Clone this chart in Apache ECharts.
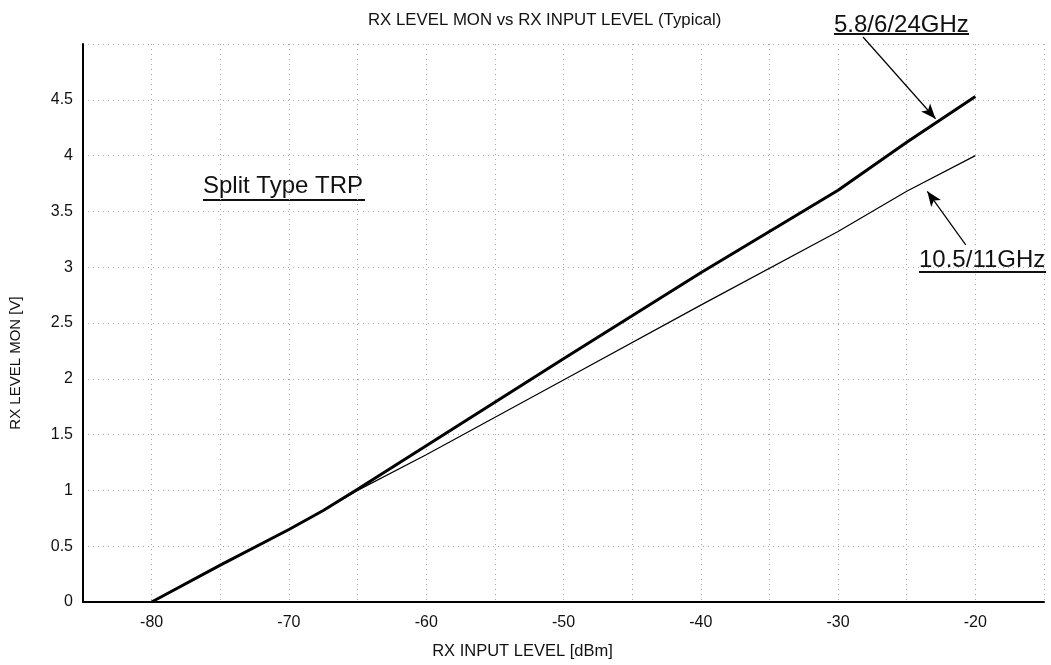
<!DOCTYPE html>
<html>
<head>
<meta charset="utf-8">
<script src="https://cdn.jsdelivr.net/npm/echarts@6/dist/echarts.min.js"></script>
<style>
  html, body { margin: 0; padding: 0; background: #fff; }
  #chart { width: 1051px; height: 665px; }
</style>
</head>
<body>
<div id="chart"></div>
<script>
// RX input level [dBm] at the read-off points
const inputLevel = [-80, -75, -70, -67.5, -65, -60, -50, -40, -30, -25, -20];
// RX LEVEL MON [V] for each band
const mon58_6_24 = [0, 0.33, 0.65, 0.82, 1.01, 1.4, 2.18, 2.95, 3.69, 4.12, 4.53];
const mon105_11 = [0, 0.33, 0.65, 0.82, 1.0, 1.32, 1.99, 2.66, 3.32, 3.68, 4.0];
// annotation arrow tips in data units (tails sit next to the labels)
const arrowTip58 = [-22.9, 4.33];
const arrowTip105 = [-23.5, 3.68];
const arrowTail105 = [-20.7, 3.2];

const FONT = 'Arial, "Liberation Sans", sans-serif';

function pairs(xs, ys) {
  return xs.map((x, i) => [x, ys[i]]);
}

const chart = echarts.init(document.getElementById('chart'));

const gridLine = { show: true, lineStyle: { color: '#a8a8a8', type: [1, 4], width: 1 } };

chart.setOption({
  animation: false,
  backgroundColor: '#fff',
  title: {
    text: 'RX LEVEL MON vs RX INPUT LEVEL (Typical)',
    left: 363,
    top: 7,
    textStyle: { fontFamily: FONT, fontSize: 16.8, fontWeight: 'normal', color: '#111' }
  },
  grid: { left: 83, right: 7, top: 44, bottom: 63 },
  xAxis: {
    type: 'value',
    min: -85,
    max: -15,
    interval: 5,
    name: 'RX INPUT LEVEL [dBm]',
    nameLocation: 'middle',
    nameGap: 41,
    nameTextStyle: { fontFamily: FONT, fontSize: 16.5, color: '#111', padding: [0, 82, 0, 0] },
    axisLine: { onZero: false, lineStyle: { color: '#000', width: 2 } },
    axisTick: { show: false },
    axisLabel: {
      margin: 13,
      fontFamily: FONT, fontSize: 16, color: '#111',
      formatter: v => (v % 10 === 0 ? String(v) : '')
    },
    splitLine: gridLine
  },
  yAxis: {
    type: 'value',
    min: 0,
    max: 5,
    interval: 0.5,
    name: 'RX LEVEL MON [V]',
    nameLocation: 'middle',
    nameGap: 60,
    nameTextStyle: { fontFamily: FONT, fontSize: 15, color: '#111', padding: [0, 0, 0, -80] },
    axisLine: { show: true, onZero: false, lineStyle: { color: '#000', width: 2 } },
    axisTick: { show: false },
    axisLabel: {
      margin: 10,
      fontFamily: FONT, fontSize: 16, color: '#111',
      formatter: v => (v >= 5 ? '' : String(v))
    },
    splitLine: gridLine
  },
  series: [
    {
      name: '5.8/6/24GHz',
      type: 'line',
      data: pairs(inputLevel, mon58_6_24),
      showSymbol: false,
      lineStyle: { color: '#000', width: 3 },
      z: 3
    },
    {
      name: '10.5/11GHz',
      type: 'line',
      data: pairs(inputLevel, mon105_11),
      showSymbol: false,
      lineStyle: { color: '#000', width: 1.2 },
      z: 2
    },
    {
      // annotation arrows
      type: 'line',
      data: [],
      markLine: {
        silent: true,
        symbol: ['none', 'arrow'],
        symbolSize: [9, 15],
        label: { show: false },
        lineStyle: { color: '#000', width: 1.2, type: 'solid' },
        data: [
          [{ x: 863, y: 37 }, { coord: arrowTip58 }],
          [{ coord: arrowTail105 }, { coord: arrowTip105 }]
        ]
      }
    }
  ],
  graphic: [
    { type: 'text', style: { text: '5.8/6/24GHz', x: 834, y: 25, font: '24px ' + FONT, fill: '#111', verticalAlign: 'middle' } },
    { type: 'line', shape: { x1: 834, y1: 34, x2: 969, y2: 34 }, style: { stroke: '#111', lineWidth: 2 } },
    { type: 'text', style: { text: '10.5/11GHz', x: 919, y: 260, font: '24px ' + FONT, fill: '#111', verticalAlign: 'middle' } },
    { type: 'line', shape: { x1: 919, y1: 272, x2: 1046, y2: 272 }, style: { stroke: '#111', lineWidth: 2 } },
    { type: 'text', style: { text: 'Split Type TRP', x: 203, y: 186, font: '24px ' + FONT, fill: '#111', verticalAlign: 'middle' } },
    { type: 'line', shape: { x1: 203, y1: 200, x2: 365, y2: 200 }, style: { stroke: '#111', lineWidth: 2 } }
  ]
});
</script>
</body>
</html>
